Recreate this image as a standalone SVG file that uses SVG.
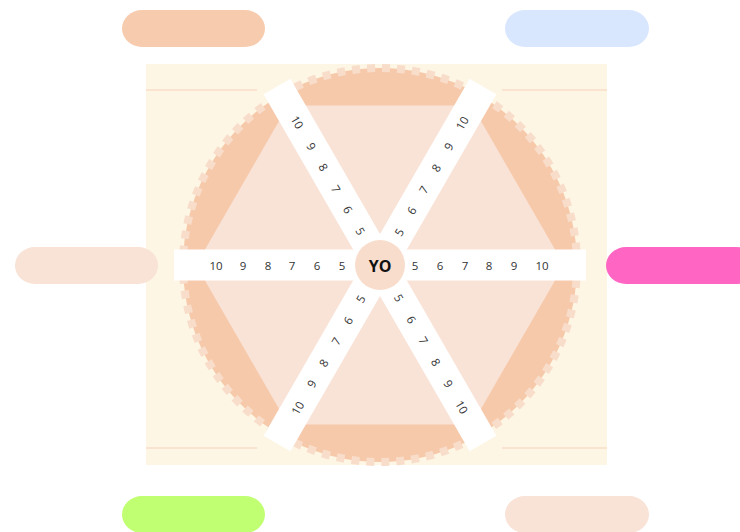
<svg xmlns="http://www.w3.org/2000/svg" width="740" height="532" viewBox="0 0 740 532">
<style>
.num{font-family:"Open Sans","Liberation Sans",sans-serif;font-size:11.5px;fill:#333333;text-anchor:middle;dominant-baseline:central}
.yo{font-family:"Open Sans","Liberation Sans",sans-serif;font-size:16px;font-weight:bold;fill:#111;text-anchor:middle;dominant-baseline:central}
.spoke{fill:#ffffff}
.faint{stroke:#F8DCC8;stroke-width:1.5}
</style>
<rect width="740" height="532" fill="#ffffff"/>
<g id="board">
<rect x="146" y="64" width="461" height="401" fill="#FDF6E4"/>
<line class="faint" x1="146" y1="90" x2="257" y2="90"/>
<line class="faint" x1="502" y1="90" x2="607" y2="90"/>
<line class="faint" x1="146" y1="448" x2="257" y2="448"/>
<line class="faint" x1="502" y1="448" x2="607" y2="448"/>
<circle cx="380" cy="265" r="197" fill="#F6C9AA" stroke="#F9DDCB" stroke-width="8" stroke-dasharray="8 7"/>
<polygon points="564,265 472,105.6 288,105.6 196,265 288,424.4 472,424.4" fill="#F9E2D6"/>
</g>
<g id="spokes">
<rect class="spoke" x="174" y="249.5" width="412" height="31"/>
<rect class="spoke" x="174" y="249.5" width="412" height="31" transform="rotate(60 380 265)"/>
<rect class="spoke" x="174" y="249.5" width="412" height="31" transform="rotate(-60 380 265)"/>
</g>
<g id="numbers-horizontal">
<text class="num" x="415" y="265">5</text><text class="num" x="440" y="265">6</text><text class="num" x="465" y="265">7</text><text class="num" x="489" y="265">8</text><text class="num" x="514" y="265">9</text><text class="num" x="542" y="265">10</text>
<text class="num" x="342" y="265">5</text><text class="num" x="317" y="265">6</text><text class="num" x="292" y="265">7</text><text class="num" x="268" y="265">8</text><text class="num" x="243" y="265">9</text><text class="num" x="216" y="265">10</text>
</g>
<g id="numbers-diag1" transform="rotate(60 380 265)">
<text class="num" x="418" y="265">5</text><text class="num" x="443" y="265">6</text><text class="num" x="467" y="265">7</text><text class="num" x="492" y="265">8</text><text class="num" x="517" y="265">9</text><text class="num" x="544" y="265">10</text>
<text class="num" x="341" y="265">5</text><text class="num" x="316" y="265">6</text><text class="num" x="292" y="265">7</text><text class="num" x="267" y="265">8</text><text class="num" x="243" y="265">9</text><text class="num" x="215" y="265">10</text>
</g>
<g id="numbers-diag2" transform="rotate(-60 380 265)">
<text class="num" x="418" y="265">5</text><text class="num" x="443" y="265">6</text><text class="num" x="467" y="265">7</text><text class="num" x="492" y="265">8</text><text class="num" x="517" y="265">9</text><text class="num" x="544" y="265">10</text>
<text class="num" x="341" y="265">5</text><text class="num" x="316" y="265">6</text><text class="num" x="292" y="265">7</text><text class="num" x="267" y="265">8</text><text class="num" x="243" y="265">9</text><text class="num" x="215" y="265">10</text>
</g>
<g id="center">
<circle cx="380" cy="265" r="25" fill="#F9DDCC"/>
<text class="yo" x="380" y="266">YO</text>
</g>
<g id="pill-top-left"><rect x="122" y="10" width="143" height="37" rx="20" ry="18.5" fill="#F7CBAE"/></g>
<g id="pill-top-right"><rect x="505" y="10" width="144" height="37" rx="20" ry="18.5" fill="#D9E7FE"/></g>
<g id="pill-left"><rect x="15" y="247" width="143" height="37" rx="20" ry="18.5" fill="#F9E2D6"/></g>
<g id="pill-right"><rect x="606" y="247" width="150" height="37" rx="20" ry="18.5" fill="#FF66C4"/></g>
<g id="pill-bottom-left"><rect x="122" y="496" width="143" height="37" rx="20" ry="18.5" fill="#C1FF72"/></g>
<g id="pill-bottom-right"><rect x="505" y="496" width="144" height="37" rx="20" ry="18.5" fill="#F9E2D6"/></g>
</svg>
